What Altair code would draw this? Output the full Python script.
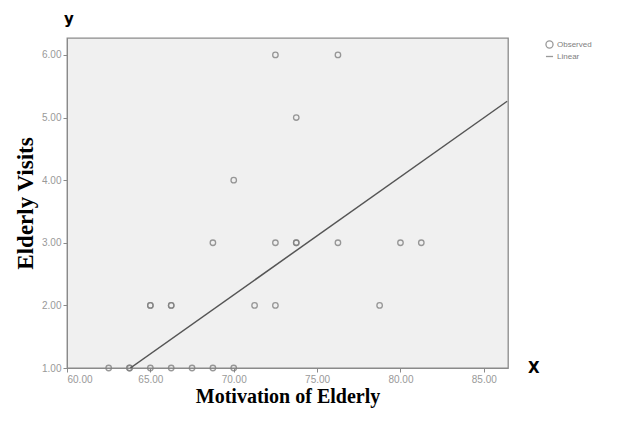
import altair as alt
import pandas as pd

# Observed data (Motivation of Elderly, Elderly Visits)
motivation = [72.5, 76.25, 73.75, 70.0, 68.75, 72.5, 73.75, 73.75, 76.25, 80.0, 81.25,
              65.0, 65.0, 66.25, 66.25, 71.25, 72.5, 78.75,
              62.5, 63.75, 63.75, 65.0, 66.25, 67.5, 68.75, 70.0]
visits = [6, 6, 5, 4, 3, 3, 3, 3, 3, 3, 3,
          2, 2, 2, 2, 2, 2, 2,
          1, 1, 1, 1, 1, 1, 1, 1]

# Linear fit line endpoints
fit_x = [63.8, 86.4]
fit_y = [1.0, 5.26]

x_ticks = [60, 65, 70, 75, 80, 85]
y_ticks = [1, 2, 3, 4, 5, 6]

obs = pd.DataFrame({"x": motivation, "y": visits, "series": ["Observed"] * len(visits)})
fit = pd.DataFrame({"x": fit_x, "y": fit_y, "series": ["Linear"] * len(fit_x)})

W, H = 441, 330

xscale = alt.Scale(domain=[60, 86.45], nice=False, zero=False)
yscale = alt.Scale(domain=[1, 6.27], nice=False, zero=False)

xaxis = alt.Axis(values=x_ticks, format=".2f", title="Motivation of Elderly",
                 grid=False, titlePadding=2, titleFontSize=20)
yaxis = alt.Axis(values=y_ticks, format=".2f", title="Elderly Visits",
                 grid=False, titlePadding=4, titleFontSize=23)

points = alt.Chart(obs).mark_point(
    shape="circle", filled=False, size=30, strokeWidth=1.3, color="#808080", opacity=0.8
).encode(
    x=alt.X("x:Q", scale=xscale, axis=xaxis),
    y=alt.Y("y:Q", scale=yscale, axis=yaxis),
    shape=alt.Shape("series:N",
                    scale=alt.Scale(domain=["Observed", "Linear"], range=["circle", "stroke"]),
                    legend=alt.Legend(title=None, orient="none", legendX=478, legendY=2,
                                      symbolStrokeColor="#808080", symbolFillColor="transparent",
                                      symbolSize=50, symbolStrokeWidth=1.3,
                                      labelFontSize=8, labelColor="#808080",
                                      labelFont="Liberation Sans",
                                      rowPadding=1, symbolOffset=0, labelOffset=3)),
)

line = alt.Chart(fit).mark_line(color="#555555", strokeWidth=1.5, clip=True).encode(
    x=alt.X("x:Q", scale=xscale),
    y=alt.Y("y:Q", scale=yscale),
)

xlabel = alt.Chart(pd.DataFrame({"t": ["X"]})).mark_text(
    font="DejaVu Sans", fontWeight="bold", fontSize=15, color="black", align="left", baseline="middle"
).encode(text="t:N", x=alt.value(W + 20), y=alt.value(H))

chart = alt.layer(points, line, xlabel).properties(
    width=W, height=H,
    title=alt.Title("y", anchor="start", frame="group", fontSize=15, fontWeight="bold",
                    font="DejaVu Sans", color="black", dx=-3, offset=11),
    autosize=alt.AutoSizeParams(type="none"),
    padding={"left": 59, "top": 30, "right": 108, "bottom": 45},
    background="white",
).configure_view(
    fill="#f0f0f0", stroke="#8a8a8a", strokeWidth=1.3
).configure_axis(
    domainColor="#8a8a8a", tickColor="#8a8a8a", tickSize=4,
    labelColor="#999999", labelFontSize=10, labelFont="Liberation Sans",
    titleFont="Liberation Serif", titleFontWeight="bold", titleColor="black",
)

chart.save("out.html", embed_options={"renderer": "svg", "actions": False})
